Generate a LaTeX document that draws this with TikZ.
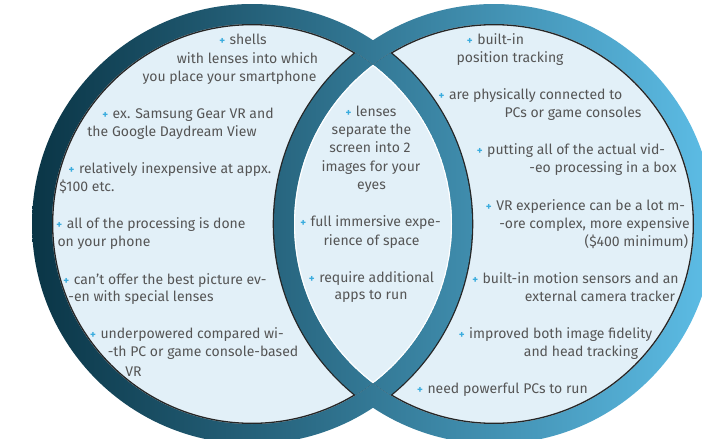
\documentclass[tikz,border=0pt]{standalone}
\usepackage{fontspec}
\setmainfont{Fira Sans}
\definecolor{ringL}{HTML}{0A3546}
\definecolor{ringM}{HTML}{2D7089}
\definecolor{ringR}{HTML}{5DBDE6}
\definecolor{innerblue}{HTML}{E2F0F8}
\definecolor{textgray}{HTML}{555555}
\definecolor{plusblue}{HTML}{3AACDE}
\newcommand{\pls}{{\color{plusblue}\fontsize{11}{11}\selectfont\bfseries +}\hspace{4.5pt}}
\begin{document}
\begin{tikzpicture}[x=1pt,y=-1pt,
  txt/.style={anchor=base, text=textgray, inner sep=0pt, font=\fontsize{14}{16}\selectfont},
  ringshade/.style={left color=ringL, middle color=ringM, right color=ringR}]
\useasboundingbox (0,0) rectangle (702,439);
\clip (0,0) rectangle (702,439);
\coordinate (L) at (252,224);
\coordinate (R) at (494,224);
% rings
\shade[ringshade] (L) circle (220pt) (R) circle (220pt);
\fill[innerblue] (L) circle (200pt) (R) circle (200pt);
% dark inner edges
\begin{scope}
  \clip (L) circle (200pt);
  \draw[black!85, line width=2.6pt] (L) circle (200pt) (R) circle (220pt);
\end{scope}
\begin{scope}
  \clip (R) circle (200pt);
  \draw[black!85, line width=2.6pt] (R) circle (200pt) (L) circle (220pt);
\end{scope}
% rings crossing interiors
\begin{scope}
  \clip (L) circle (200pt);
  \clip (R) circle (220pt);
  \shade[ringshade] (L) circle (220pt) (R) circle (220pt);
\end{scope}
\begin{scope}
  \clip (R) circle (200pt);
  \clip (L) circle (220pt);
  \shade[ringshade] (L) circle (220pt) (R) circle (220pt);
\end{scope}
% lens
\begin{scope}
  \clip (L) circle (200pt);
  \clip (R) circle (200pt);
  \fill[innerblue] (L) circle (200pt);
  \draw[white, line width=2.2pt] (L) circle (200pt) (R) circle (200pt);
\end{scope}
% left texts
\node[txt] (t1) at (243,44) {\pls shells};
\node[txt] (t2) at (247.5,63) {with lenses into which};
\node[txt] (t3) at (229.5,81) {you place your smartphone};
\node[txt] (t4) at (188,118) {\pls ex. Samsung Gear VR and};
\node[txt] (t5) at (172,136) {the Google Daydream View};
\node[txt] (t6) at (170,173) {\pls relatively inexpensive at appx.};
\node[txt] (t7) at (87,191) {\$100 etc.};
\node[txt] (t8) at (151,228) {\pls all of the processing is done};
\node[txt] (t9) at (104,246) {on your phone};
\node[txt] (t10) at (165,284) {\pls can’t offer the best picture ev-};
\node[txt] (t11) at (141,301) {-en with special lenses};
\node[txt] (t12) at (187,338) {\pls underpowered compared wi-};
\node[txt] (t13) at (203,356) {-th PC or game console-based};
\node[txt] (t14) at (133.5,376) {VR};
% middle texts
\node[txt] (t15) at (371,116) {\pls lenses};
\node[txt] (t16) at (371.5,134) {separate the};
\node[txt] (t17) at (370,152) {screen into 2};
\node[txt] (t18) at (371,171) {images for your};
\node[txt] (t19) at (371.5,189) {eyes};
\node[txt] (t20) at (370.5,226) {\pls full immersive expe-};
\node[txt] (t21) at (371.5,245) {rience of space};
\node[txt] (t22) at (371.5,282) {\pls require additional};
\node[txt] (t23) at (371,299) {apps to run};
% right texts
\node[txt] (t24) at (495.5,44) {\pls built-in};
\node[txt] (t25) at (510,62) {position tracking};
\node[txt] (t26) at (530.5,99) {\pls are physically connected to};
\node[txt] (t27) at (573,117) {PCs or game consoles};
\node[txt] (t28) at (571,154) {\pls putting all of the actual vid-};
\node[txt] (t29) at (603,172) {-eo processing in a box};
\node[txt] (t30) at (585.5,210) {\pls VR experience can be a lot m-};
\node[txt] (t31) at (594.5,228) {-ore complex, more expensive};
\node[txt] (t32) at (636.5,246) {(\$400 minimum)};
\node[txt] (t33) at (575.5,283) {\pls built-in motion sensors and an};
\node[txt] (t34) at (600,301) {external camera tracker};
\node[txt] (t35) at (555.5,338) {\pls improved both image fidelity};
\node[txt] (t36) at (581,356) {and head tracking};
\node[txt] (t37) at (502.5,393) {\pls need powerful PCs to run};
\end{tikzpicture}
\end{document}
